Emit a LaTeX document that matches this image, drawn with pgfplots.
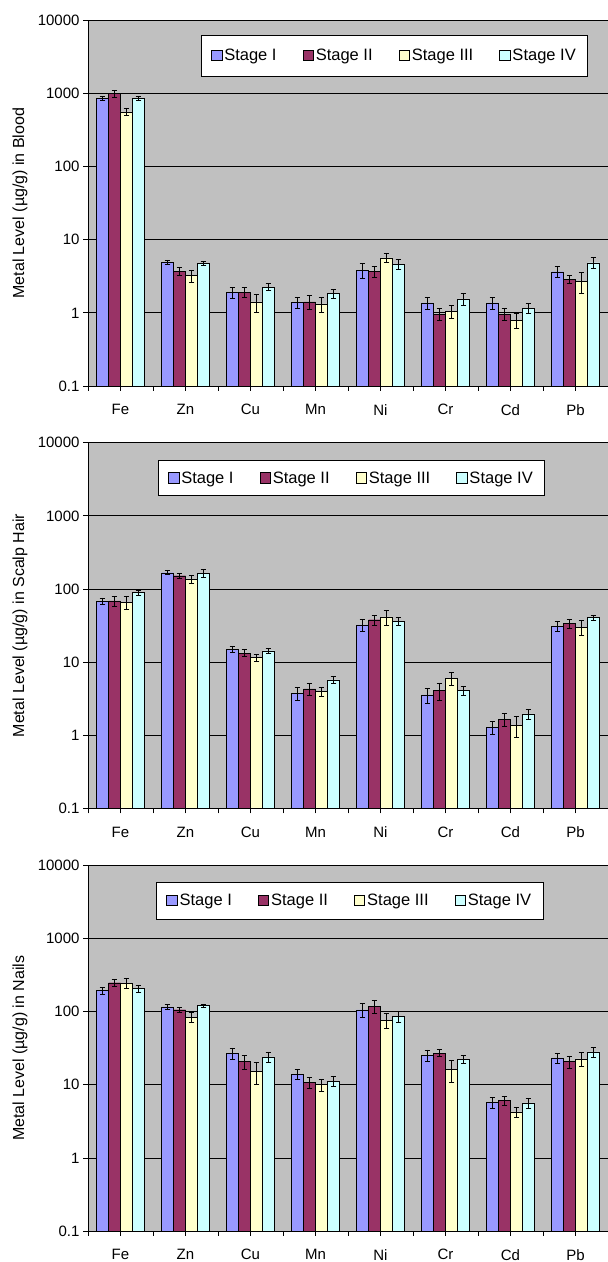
\documentclass[border=0pt]{standalone}
\usepackage{fontspec}
\setmainfont{Liberation Sans}
\usepackage{pgfplots}
\usepackage{pgfplotstable}
\pgfplotsset{compat=1.18}
\definecolor{sI}{HTML}{9999FF}
\definecolor{sII}{HTML}{993366}
\definecolor{sIII}{HTML}{FFFFCC}
\definecolor{sIV}{HTML}{CCFFFF}
\definecolor{bgc}{HTML}{C0C0C0}

\pgfplotstableread{
x s1 e1 s2 e2 s3 e3 s4 e4
0 855 60 1000 110 561 60 863 60
1 4.9 0.27 3.70 0.45 3.23 0.6 4.81 0.33
2 1.91 0.33 1.91 0.29 1.41 0.4 2.26 0.25
3 1.40 0.24 1.41 0.3 1.33 0.3 1.85 0.27
4 3.82 0.9 3.70 0.6 5.68 0.8 4.61 0.7
5 1.37 0.25 0.96 0.18 1.05 0.2 1.55 0.28
6 1.37 0.24 0.96 0.18 0.79 0.18 1.16 0.18
7 3.66 0.6 2.88 0.37 2.70 0.85 4.86 0.85
}\blood

\pgfplotstableread{
x s1 e1 s2 e2 s3 e3 s4 e4
0 68.5 7 69 11 65.8 13 89 6
1 167 11 152 12 138 17 164 21
2 15.1 1.4 13.3 1.5 11.5 1.3 14.3 1.1
3 3.75 0.8 4.30 0.85 3.95 0.55 5.71 0.6
4 32.4 6 38 6 41.4 10 36.1 4.5
5 3.56 0.8 4.08 1.1 5.95 1.2 4.08 0.6
6 1.27 0.26 1.65 0.33 1.37 0.45 1.96 0.3
7 30.9 5 33.6 5 29.9 7 40.6 3.5
}\hair

\pgfplotstableread{
x s1 e1 s2 e2 s3 e3 s4 e4
0 195 21 249 25 246 35 208 23
1 116 8 106.5 9 84.5 12 121 5
2 27.1 4.8 20.8 4.5 15.2 5 24.1 4
3 14.0 2.3 10.8 1.8 10.1 1.9 11.2 1.8
4 106 23 119 23 77 17 86.3 16
5 25.4 4.6 27.1 3 16.2 5.5 22.2 2.8
6 5.70 1.0 6.07 0.8 4.25 0.7 5.64 0.95
7 23.4 3.8 20.8 4 22.6 4.8 28.2 4.5
}\nails

\pgfplotsset{
  every axis/.append style={
    width=520pt, height=365.5pt, scale only axis,
    xmin=-0.5, xmax=7.5,
    ymin=0.1, ymax=10000,
    log origin y=infty,
    bar width=12pt,
    ytick={0.1,1,10,100,1000,10000},
    yticklabels={0.1,1,10,100,1000,10000},
    yminorticks=false,
    xtick={0,1,2,3,4,5,6,7},
    xticklabels={Fe,Zn,Cu,Mn,Ni,Cr,Cd,Pb},
    minor xtick={-0.5,0.5,1.5,2.5,3.5,4.5,5.5,6.5,7.5},
    tick align=outside, major tick length=5pt, minor tick length=5pt,
    axis background/.style={fill=bgc},
    ymajorgrids, grid style={black, line width=0.8pt},
    axis x line*=bottom, axis y line*=left,
    axis line style={black, line width=0.9pt},
    tick style={black, line width=0.8pt},
    ticklabel style={font=\fontsize{15}{15}\selectfont},
    xticklabel style={yshift=-10pt},
    ylabel style={font=\fontsize{16}{16}\selectfont, at={(axis description cs:-0.131,0.5)}, anchor=center},
    legend columns=4,
    legend style={draw=black, fill=white, line width=0.8pt, font=\fontsize{16.5}{16.5}\selectfont,
      anchor=north west, inner xsep=10pt, inner ysep=12pt,
      /tikz/every even column/.append style={column sep=24pt}},
  },
}

\begin{document}
\begin{tikzpicture}
\useasboundingbox (0,0) rectangle (608pt,1262pt);

\begin{semilogyaxis}[ybar=0pt, at={(88pt,876pt)}, anchor=south west,
  legend image code/.code={\draw[#1, draw=black, line width=0.7pt] (0pt,-5pt) rectangle (10.5pt,5.5pt);},
  ylabel={Metal Level (µg/g) in Blood},
  legend style={at={(rel axis cs:0.2167,0.961)}}]
\addplot[fill=sI, draw=black, error bars/.cd, y dir=both, y explicit, error bar style={black, line width=0.8pt}, error mark options={rotate=90, black, mark size=2.8pt, line width=0.8pt}] table[x=x, y=s1, y error=e1] {\blood};
\addplot[fill=sII, draw=black, error bars/.cd, y dir=both, y explicit, error bar style={black, line width=0.8pt}, error mark options={rotate=90, black, mark size=2.8pt, line width=0.8pt}] table[x=x, y=s2, y error=e2] {\blood};
\addplot[fill=sIII, draw=black, error bars/.cd, y dir=both, y explicit, error bar style={black, line width=0.8pt}, error mark options={rotate=90, black, mark size=2.8pt, line width=0.8pt}] table[x=x, y=s3, y error=e3] {\blood};
\addplot[fill=sIV, draw=black, error bars/.cd, y dir=both, y explicit, error bar style={black, line width=0.8pt}, error mark options={rotate=90, black, mark size=2.8pt, line width=0.8pt}] table[x=x, y=s4, y error=e4] {\blood};
\legend{Stage I, Stage II, Stage III, Stage IV}
\end{semilogyaxis}

\begin{semilogyaxis}[ybar=0pt, at={(88pt,453.7pt)}, anchor=south west,
  legend image code/.code={\draw[#1, draw=black, line width=0.7pt] (0pt,-5pt) rectangle (10.5pt,5.5pt);},
  ylabel={Metal Level (µg/g) in Scalp Hair},
  legend style={at={(rel axis cs:0.134,0.9527)}, inner ysep=9pt}]
\addplot[fill=sI, draw=black, error bars/.cd, y dir=both, y explicit, error bar style={black, line width=0.8pt}, error mark options={rotate=90, black, mark size=2.8pt, line width=0.8pt}] table[x=x, y=s1, y error=e1] {\hair};
\addplot[fill=sII, draw=black, error bars/.cd, y dir=both, y explicit, error bar style={black, line width=0.8pt}, error mark options={rotate=90, black, mark size=2.8pt, line width=0.8pt}] table[x=x, y=s2, y error=e2] {\hair};
\addplot[fill=sIII, draw=black, error bars/.cd, y dir=both, y explicit, error bar style={black, line width=0.8pt}, error mark options={rotate=90, black, mark size=2.8pt, line width=0.8pt}] table[x=x, y=s3, y error=e3] {\hair};
\addplot[fill=sIV, draw=black, error bars/.cd, y dir=both, y explicit, error bar style={black, line width=0.8pt}, error mark options={rotate=90, black, mark size=2.8pt, line width=0.8pt}] table[x=x, y=s4, y error=e4] {\hair};
\legend{Stage I, Stage II, Stage III, Stage IV}
\end{semilogyaxis}

\begin{semilogyaxis}[ybar=0pt, at={(88pt,31pt)}, anchor=south west,
  legend image code/.code={\draw[#1, draw=black, line width=0.7pt] (0pt,-5pt) rectangle (10.5pt,5.5pt);},
  ylabel={Metal Level (µg/g) in Nails},
  legend style={at={(rel axis cs:0.1308,0.956)}, inner ysep=10pt}]
\addplot[fill=sI, draw=black, error bars/.cd, y dir=both, y explicit, error bar style={black, line width=0.8pt}, error mark options={rotate=90, black, mark size=2.8pt, line width=0.8pt}] table[x=x, y=s1, y error=e1] {\nails};
\addplot[fill=sII, draw=black, error bars/.cd, y dir=both, y explicit, error bar style={black, line width=0.8pt}, error mark options={rotate=90, black, mark size=2.8pt, line width=0.8pt}] table[x=x, y=s2, y error=e2] {\nails};
\addplot[fill=sIII, draw=black, error bars/.cd, y dir=both, y explicit, error bar style={black, line width=0.8pt}, error mark options={rotate=90, black, mark size=2.8pt, line width=0.8pt}] table[x=x, y=s3, y error=e3] {\nails};
\addplot[fill=sIV, draw=black, error bars/.cd, y dir=both, y explicit, error bar style={black, line width=0.8pt}, error mark options={rotate=90, black, mark size=2.8pt, line width=0.8pt}] table[x=x, y=s4, y error=e4] {\nails};
\legend{Stage I, Stage II, Stage III, Stage IV}
\end{semilogyaxis}
\end{tikzpicture}
\end{document}
